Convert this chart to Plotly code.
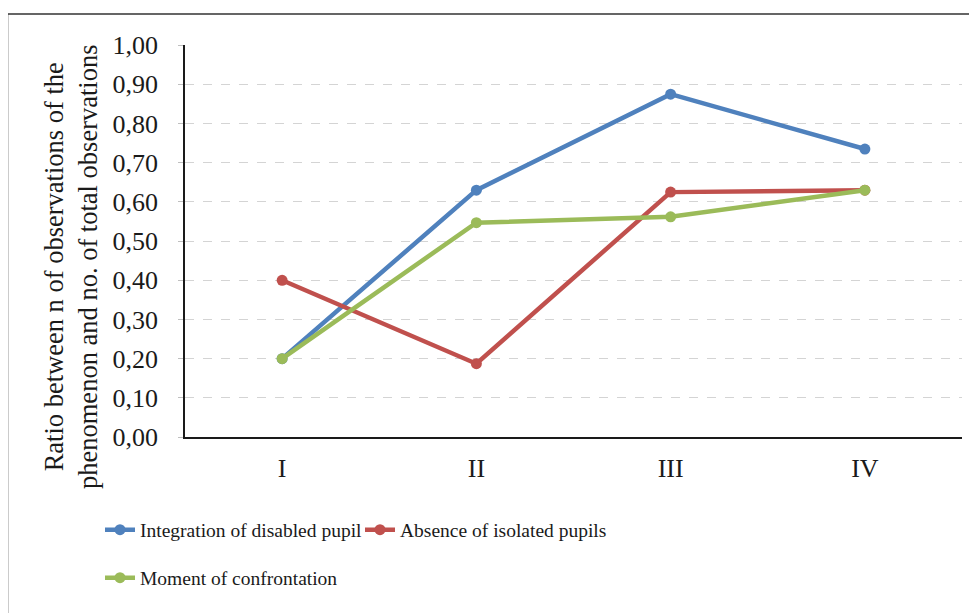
import plotly.graph_objects as go

categories = ["I", "II", "III", "IV"]
integration = [0.20, 0.63, 0.875, 0.735]
absence = [0.40, 0.187, 0.625, 0.63]
confrontation = [0.20, 0.547, 0.562, 0.63]
series_names = ["Integration of disabled pupil", "Absence of isolated pupils", "Moment of confrontation"]
y_title_lines = ["Ratio between n of observations of the", "phenomenon and no. of total observations"]

colors = ["#4F81BD", "#C0504D", "#9BBB59"]

fig = go.Figure()
for name, vals, col, lg in zip(series_names, [integration, absence, confrontation], colors,
                               ["legend", "legend", "legend2"]):
    fig.add_trace(go.Scatter(
        x=categories, y=vals, name=name, mode="lines+markers",
        line=dict(color=col, width=4.5), marker=dict(color=col, size=11, symbol="circle"),
        legend=lg,
    ))

OFF = 8  # page body margin
W, H = 977 - OFF, 613 - OFF
# plot area in screenshot pixels: x 185..962, y 45..437
L = 185 - OFF
R = W - (962 - OFF)
T = 45 - OFF
B = H - (437 - OFF)
pw, ph = W - L - R, H - T - B

def px(x):
    return (x - OFF - L) / pw

def py(y):
    return (H - B - (y - OFF)) / ph

serif = "Liberation Serif"
fig.update_layout(
    width=W, height=H,
    margin=dict(l=L, r=R, t=T, b=B, autoexpand=False),
    paper_bgcolor="white", plot_bgcolor="white",
    separators=",.",
    font=dict(family=serif, color="#1a1a1a"),
    xaxis=dict(type="category", range=[-0.5, 3.5], showgrid=False, showline=True,
               linecolor="#1a1a1a", linewidth=2, ticks="", tickfont=dict(size=26, family=serif),
               ticklabelstandoff=7, fixedrange=True),
    yaxis=dict(range=[0, 1.0005], tickvals=[i / 10 for i in range(11)], tickformat=".2f",
               showgrid=True, gridcolor="#D4D4D4", griddash="dash", gridwidth=1,
               showline=True, linecolor="#1a1a1a", linewidth=1.5,
               ticks="outside", ticklen=5, tickcolor="#BFBFBF",
               tickfont=dict(size=26, family=serif), ticklabelstandoff=15,
               zeroline=False, fixedrange=True),
    legend=dict(orientation="h", x=px(100), y=py(530), xanchor="left", yanchor="middle",
                entrywidth=215, font=dict(size=19.5, family=serif), tracegroupgap=0,
                bgcolor="rgba(0,0,0,0)"),
    legend2=dict(orientation="h", x=px(100), y=py(578), xanchor="left", yanchor="middle",
                 font=dict(size=19.5, family=serif), bgcolor="rgba(0,0,0,0)"),
    showlegend=True,
)

fig.add_annotation(
    text="<br>".join(y_title_lines), xref="paper", yref="paper",
    x=px(71), y=py(267), xanchor="center", yanchor="middle", textangle=-90,
    showarrow=False, font=dict(family=serif, size=26.5, color="#1a1a1a"),
)

fig.add_shape(type="rect", xref="paper", yref="paper",
              x0=px(7.5), x1=px(990), y0=py(625), y1=py(14),
              line=dict(color="#333333", width=1.5), fillcolor="rgba(0,0,0,0)", layer="below")

fig.write_html("out.html")
